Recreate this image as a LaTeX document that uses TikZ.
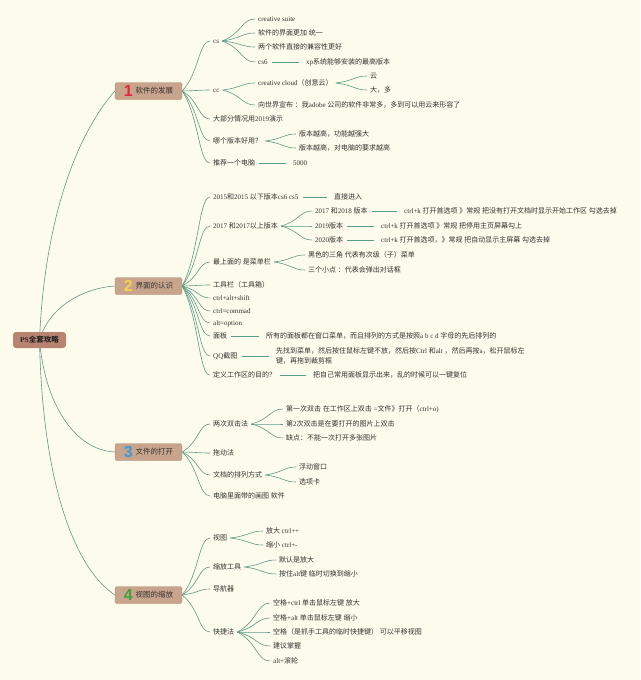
\documentclass[tikz,border=0pt]{standalone}
\usepackage{fontspec}
\setmainfont{Liberation Serif}
\newfontfamily\cjk{Noto Sans CJK SC}
\newfontfamily\numf{Liberation Sans}
\usetikzlibrary{calc}
\definecolor{bgc}{HTML}{FDFBEB}
\definecolor{lnc}{HTML}{5A9C88}
\definecolor{boxc}{HTML}{C9A48D}
\definecolor{rootc}{HTML}{B98371}
\definecolor{txt}{HTML}{333333}
\definecolor{nr}{HTML}{E0283A}
\definecolor{ny}{HTML}{F4D24A}
\definecolor{nb}{HTML}{3A9AD8}
\definecolor{ng}{HTML}{3FA33C}
\XeTeXinterchartokenstate=1
\chardef\CJKcls=7
\makeatletter
\def\setcjkrange#1#2{\count@=#1\relax\loop\XeTeXcharclass\count@=\CJKcls\relax\ifnum\count@<#2\relax\advance\count@\@ne\repeat}
\setcjkrange{"3000}{"303F}
\setcjkrange{"4E00}{"9FFF}
\setcjkrange{"FF00}{"FFEF}
\makeatother
\XeTeXinterchartoks 0 \CJKcls = {\cjk}
\XeTeXinterchartoks 4095 \CJKcls = {\cjk}
\XeTeXinterchartoks \CJKcls 0 = {\rmfamily}
\XeTeXinterchartoks \CJKcls 4095 = {\rmfamily}
\pgfdeclarelayer{back}
\pgfdeclarelayer{bg}
\pgfsetlayers{back,bg,main}
\newcommand\dig[2]{\raisebox{-2.8pt}{\numf\bfseries\fontsize{16}{16}\selectfont\color{#1}#2}\hspace{3pt}}
\newcommand\cv[2]{\draw[link] let \p1=(#1),\p2=(#2) in (\p1) .. controls ({\x1+0.6*(\x2-\x1)},{\y1+0.35*(\y2-\y1)}) and ({\x1+0.6*(\x2-\x1)},\y2) .. (\p2);}
\begin{document}
\begin{tikzpicture}[x=1pt,y=-1pt,
  link/.style={draw=lnc, line width=0.6pt},
  txb/.style={anchor=west, inner xsep=3pt, inner ysep=1pt, text=txt, font=\fontsize{7}{8}\selectfont},
  tx/.style={txb, text height=5.5pt, text depth=1.3pt},
  brbox/.style={fill=boxc, draw=boxc!85!black, line width=0.3pt, rounded corners=1.5pt, minimum width=67pt, minimum height=17pt, inner sep=0pt, text=txt, text height=6.5pt, text depth=1pt, font=\fontsize{7.5}{9}\selectfont},
  rootbox/.style={fill=rootc, rounded corners=3pt, minimum width=53pt, minimum height=16pt, inner sep=0pt, text=black!85, text height=6.5pt, text depth=1pt, font=\fontsize{7.5}{9}\selectfont\bfseries},
  sline/.style={link, shorten <=1pt, shorten >=4pt}]
\begin{pgfonlayer}{back}
\fill[bgc] (0,0) rectangle (640,680);
\end{pgfonlayer}
\useasboundingbox (0,0) rectangle (640,680);

% root and branches
\node[rootbox] (r) at (39.5,340) {PS全套攻略};
\node[brbox] (p1) at (148.5,91) {\dig{nr}{1}软件的发展};
\node[brbox] (p2) at (148.5,286) {\dig{ny}{2}界面的认识};
\node[brbox] (p3) at (148.5,452) {\dig{nb}{3}文件的打开};
\node[brbox] (p4) at (148.5,595) {\dig{ng}{4}视图的缩放};

% branch 1
\node[tx] (a1) at (210,41) {cs};
\node[tx] (a11) at (255,19) {creative suite};
\node[tx] (a12) at (255,33) {软件的界面更加 统一};
\node[tx] (a13) at (255,47) {两个软件直接的兼容性更好};
\node[tx] (a14) at (255,62) {cs6};
\node[tx] (a141) at (303,62) {xp系统能够安装的最高版本};
\node[tx] (a2) at (210,90) {cc};
\node[tx] (a21) at (255,83) {creative cloud（创意云）};
\node[tx] (a211) at (367,76) {云};
\node[tx] (a212) at (367,90) {大，多};
\node[tx] (a22) at (255,105) {向世界宣布 ：我adobe 公司的软件非常多，多到可以用云来形容了};
\node[tx] (a3) at (210,119) {大部分情况用2019演示};
\node[tx] (a4) at (210,141) {哪个版本好用？};
\node[tx] (a41) at (296,134) {版本越高，功能越强大};
\node[tx] (a42) at (296,148) {版本越高，对电脑的要求越高};
\node[tx] (a5) at (210,163) {推荐一个电脑};
\node[tx] (a51) at (290,163) {5000};

% branch 2
\node[tx] (b1) at (210,197) {2015和2015 以下版本cs6 cs5};
\node[tx] (b11) at (331,197) {直接进入};
\node[tx] (b2) at (210,226) {2017 和2017以上版本};
\node[tx] (b21) at (312,211) {2017 和2018 版本};
\node[tx] (b211) at (401,211) {ctrl+k 打开首选项 》常规 把没有打开文档时显示开始工作区 勾选去掉};
\node[tx] (b22) at (312,226) {2019版本};
\node[tx] (b221) at (378,226) {ctrl+k 打开首选项 》常规 把停用主页屏幕勾上};
\node[tx] (b23) at (312,240) {2020版本};
\node[tx] (b231) at (378,240) {ctrl+k 打开首选项，》常规 把自动显示主屏幕 勾选去掉};
\node[tx] (b3) at (210,262) {最上面的 是菜单栏};
\node[tx] (b31) at (305,255) {黑色的三角 代表有次级（子）菜单};
\node[tx] (b32) at (305,270) {三个小点 ：代表会弹出对话框};
\node[tx] (b4) at (210,285) {工具栏（工具箱）};
\node[tx] (b5) at (210,298) {ctrl+alt+shift};
\node[tx] (b6) at (210,311) {ctrl=commad};
\node[tx] (b7) at (210,323) {alt=option};
\node[tx] (b8) at (210,336) {面板};
\node[tx] (b81) at (263,336) {所有的面板都在窗口菜单，而且排列的方式是按照a b c d 字母的先后排列的};
\node[tx] (b9) at (210,356) {QQ截图};
\node[txb, align=left, font=\fontsize{7}{10}\selectfont] (b91) at (273,356) {先找到菜单，然后按住鼠标左键不放，然后按Ctrl 和alt ，然后再按a，松开鼠标左\\键，再拖到裁剪框};
\node[tx] (b10) at (210,375) {定义工作区的目的？};
\node[tx] (b101) at (310,375) {把自己常用面板显示出来，乱的时候可以一键复位};

% branch 3
\node[tx] (c1) at (210,424) {两次双击法};
\node[tx] (c11) at (283,409) {第一次双击 在工作区上双击 =文件》打开（ctrl+o)};
\node[tx] (c12) at (283,424) {第2次双击是在要打开的图片上双击};
\node[tx] (c13) at (283,438) {缺点：不能一次打开多张图片};
\node[tx] (c2) at (210,453) {拖动法};
\node[tx] (c3) at (210,475) {文档的排列方式};
\node[tx] (c31) at (296,467) {浮动窗口};
\node[tx] (c32) at (296,482) {选项卡};
\node[tx] (c4) at (210,496) {电脑里面带的画图 软件};

% branch 4
\node[tx] (d1) at (210,538) {视图};
\node[tx] (d11) at (263,531) {放大 ctrl++};
\node[tx] (d12) at (263,545) {缩小 ctrl+-};
\node[tx] (d2) at (210,567) {缩放工具};
\node[tx] (d21) at (276,560) {默认是放大};
\node[tx] (d22) at (276,574) {按住alt键 临时切换到缩小};
\node[tx] (d3) at (210,589) {导航器};
\node[tx] (d4) at (210,632) {快捷法};
\node[tx] (d41) at (270,603) {空格+ctrl 单击鼠标左键 放大};
\node[tx] (d42) at (270,618) {空格+alt 单击鼠标左键 缩小};
\node[tx] (d43) at (270,632) {空格（是抓手工具的临时快捷键） 可以平移视图};
\node[tx] (d44) at (270,646) {建议掌握};
\node[tx] (d45) at (270,661) {alt+滚轮};

\begin{pgfonlayer}{bg}
\draw[link] (r.center) .. controls (44,230) and (72,140) .. (p1.west);
\draw[link] (r.center) .. controls (50,305) and (85,288) .. (p2.west);
\draw[link] (r.center) .. controls (45,405) and (75,450) .. (p3.west);
\draw[link] (r.center) .. controls (42,470) and (70,565) .. (p4.west);
% branch 1
\cv{p1.east}{a1.west}\cv{p1.east}{a2.west}\cv{p1.east}{a3.west}\cv{p1.east}{a4.west}\cv{p1.east}{a5.west}
\cv{a1.east}{a11.west}\cv{a1.east}{a12.west}\cv{a1.east}{a13.west}\cv{a1.east}{a14.west}
\cv{a2.east}{a21.west}\cv{a2.east}{a22.west}
\cv{a21.east}{a211.west}\cv{a21.east}{a212.west}
\cv{a4.east}{a41.west}\cv{a4.east}{a42.west}
\draw[sline] (a14.east) -- (a141.west);
\draw[sline] (a5.east) -- (a51.west);
% branch 2
\cv{p2.east}{b1.west}\cv{p2.east}{b2.west}\cv{p2.east}{b3.west}\cv{p2.east}{b4.west}\cv{p2.east}{b5.west}
\cv{p2.east}{b6.west}\cv{p2.east}{b7.west}\cv{p2.east}{b8.west}\cv{p2.east}{b9.west}\cv{p2.east}{b10.west}
\cv{b2.east}{b21.west}\cv{b2.east}{b22.west}\cv{b2.east}{b23.west}
\cv{b3.east}{b31.west}\cv{b3.east}{b32.west}
\draw[sline] (b1.east) -- (b11.west);
\draw[sline] (b21.east) -- (b211.west);
\draw[sline] (b22.east) -- (b221.west);
\draw[sline] (b23.east) -- (b231.west);
\draw[sline] (b8.east) -- (b81.west);
\draw[sline] (b9.east) -- (b91.west);
\draw[sline] (b10.east) -- (b101.west);
% branch 3
\cv{p3.east}{c1.west}\cv{p3.east}{c2.west}\cv{p3.east}{c3.west}\cv{p3.east}{c4.west}
\cv{c1.east}{c11.west}\cv{c1.east}{c12.west}\cv{c1.east}{c13.west}
\cv{c3.east}{c31.west}\cv{c3.east}{c32.west}
% branch 4
\cv{p4.east}{d1.west}\cv{p4.east}{d2.west}\cv{p4.east}{d3.west}\cv{p4.east}{d4.west}
\cv{d1.east}{d11.west}\cv{d1.east}{d12.west}
\cv{d2.east}{d21.west}\cv{d2.east}{d22.west}
\cv{d4.east}{d41.west}\cv{d4.east}{d42.west}\cv{d4.east}{d43.west}\cv{d4.east}{d44.west}\cv{d4.east}{d45.west}
\end{pgfonlayer}
\end{tikzpicture}
\end{document}
